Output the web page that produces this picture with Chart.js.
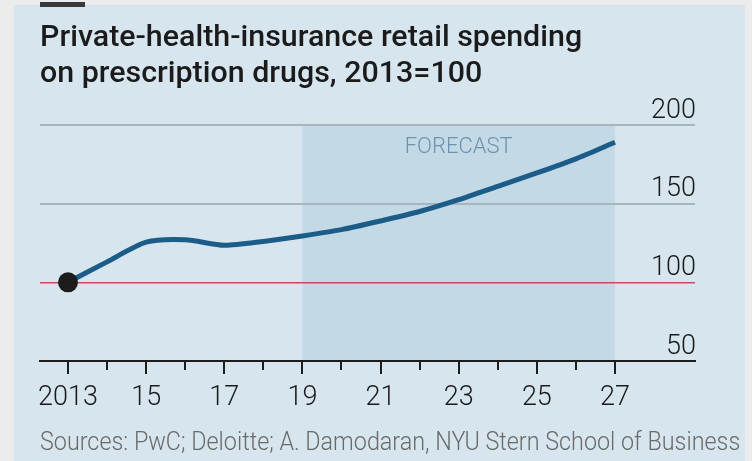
<!DOCTYPE html>
<html><head><meta charset="utf-8">
<script src="https://cdn.jsdelivr.net/npm/chart.js@4"></script>
<style>
html,body{margin:0;padding:0;}
body{width:752px;height:461px;background:#ececec;position:relative;overflow:hidden;font-family:Roboto, sans-serif;}
#panel{position:absolute;left:14px;top:5px;width:731px;height:456px;background:#d7e6ee;}
#bar{position:absolute;left:40px;top:2px;width:45px;height:5px;background:#3a3a3a;}
#title{position:absolute;left:40px;top:18px;font-size:30px;line-height:36px;font-weight:500;color:#1b1b1b;white-space:nowrap;transform-origin:0 0;}
#source{position:absolute;left:40px;top:429px;font-size:25px;line-height:25px;font-weight:300;color:#6a6a6a;white-space:nowrap;transform-origin:0 0;}
canvas{position:absolute;left:0;top:0;}
</style></head>
<body>
<div id="panel"></div><div id="bar"></div>
<canvas id="c" width="752" height="461"></canvas>
<div id="title"><span id="t1">Private-health-insurance retail spending</span><br><span>on prescription drugs, 2013=100</span></div>
<div id="source"><span id="s1">Sources: PwC; Deloitte; A. Damodaran, NYU Stern School of Business</span></div>
<script>
// ---- data ----
const years = [2013,2014,2015,2016,2017,2018,2019,2020,2021,2022,2023,2024,2025,2026,2027];
const spending = [100,113,125.5,127,123.5,126,129.5,133.5,139,145,152.5,161,169.5,178.5,189];
const yTicks = [50,100,150,200];
const forecastRange = [2019, 2027];
const forecastLabel = 'FORECAST';
const baselineValue = 100;

function fit(id, spanId, target){
  const el = document.getElementById(id);
  const w = document.getElementById(spanId).offsetWidth;
  el.style.transform = 'scaleX(' + (target / w) + ')';
}
function fitAll(){ fit('title','t1',542); fit('source','s1',700); }
fitAll();
if (document.fonts && document.fonts.ready) document.fonts.ready.then(fitAll);

const decor = {
  id: 'decor',
  beforeDraw(chart){
    const {ctx, scales:{x, y}} = chart;
    const x1 = x.getPixelForValue(forecastRange[0]);
    const x2 = x.getPixelForValue(forecastRange[1]);
    const yt = y.getPixelForValue(y.max);
    const yb = y.getPixelForValue(y.min);
    ctx.save();
    ctx.fillStyle = '#c4d9e6';
    ctx.fillRect(x1, yt, x2 - x1, yb - yt);
    ctx.fillStyle = '#6f93ad';
    ctx.font = '300 22px Roboto';
    ctx.textAlign = 'center';
    ctx.textBaseline = 'alphabetic';
    ctx.fillText(forecastLabel, x.getPixelForValue((forecastRange[0] + forecastRange[1]) / 2), yt + 28);
    ctx.restore();
  },
  afterDraw(chart){
    const {ctx, scales:{x}, chartArea} = chart;
    ctx.save();
    ctx.strokeStyle = '#1d1d1d';
    ctx.lineWidth = 2;
    years.forEach(yr => {
      const px = Math.round(x.getPixelForValue(yr));
      const len = (yr % 2 === 1) ? 13 : 9;
      ctx.beginPath();
      ctx.moveTo(px, chartArea.bottom);
      ctx.lineTo(px, chartArea.bottom + len);
      ctx.stroke();
    });
    ctx.restore();
  }
};

new Chart(document.getElementById('c'), {
  type: 'line',
  data: {
    datasets: [{
      data: years.map((yr, i) => ({x: yr, y: spending[i]})),
      borderColor: '#1b5d88',
      borderWidth: 5,
      tension: 0.25,
      pointRadius: ctx => ctx.dataIndex === 0 ? 10 : 0,
      pointHoverRadius: 0,
      pointBackgroundColor: '#1c1c1c',
      pointBorderWidth: 0,
      clip: false
    }]
  },
  options: {
    responsive: false,
    animation: false,
    devicePixelRatio: 1,
    layout: {padding: {left: 40, right: 57, top: 125, bottom: 0}},
    plugins: {legend: {display: false}, tooltip: {enabled: false}},
    scales: {
      x: {
        type: 'linear',
        min: 2012.2834,
        max: 2029.0475,
        afterBuildTicks: s => { s.ticks = years.map(v => ({value: v})); },
        afterFit: s => { s.height = 100; },
        grid: {display: false, drawTicks: false},
        border: {display: true, color: '#1d1d1d', width: 2},
        ticks: {
          autoSkip: false, maxRotation: 0, padding: 21,
          color: '#1a1a1a',
          font: {family: 'Roboto', size: 27, weight: 300},
          callback: v => v % 2 === 1 ? (v === years[0] ? String(v) : String(v % 100).padStart(2, '0')) : ''
        }
      },
      y: {
        position: 'right',
        min: yTicks[0],
        max: yTicks[yTicks.length - 1],
        afterBuildTicks: s => { s.ticks = yTicks.map(v => ({value: v})); },
        afterFit: s => { s.width = 0; },
        grid: {
          drawTicks: false,
          color: c => c.tick.value === baselineValue ? '#c64a5c' : (c.tick.value === yTicks[0] ? 'rgba(0,0,0,0)' : '#a9b5bd'),
          lineWidth: c => c.tick.value === baselineValue ? 1.5 : 2
        },
        border: {display: false},
        ticks: {
          mirror: true, padding: 1, labelOffset: -14,
          color: '#1a1a1a',
          font: {family: 'Roboto', size: 27, weight: 300},
          callback: v => String(v)
        }
      }
    }
  },
  plugins: [decor]
});
</script>
</body></html>
